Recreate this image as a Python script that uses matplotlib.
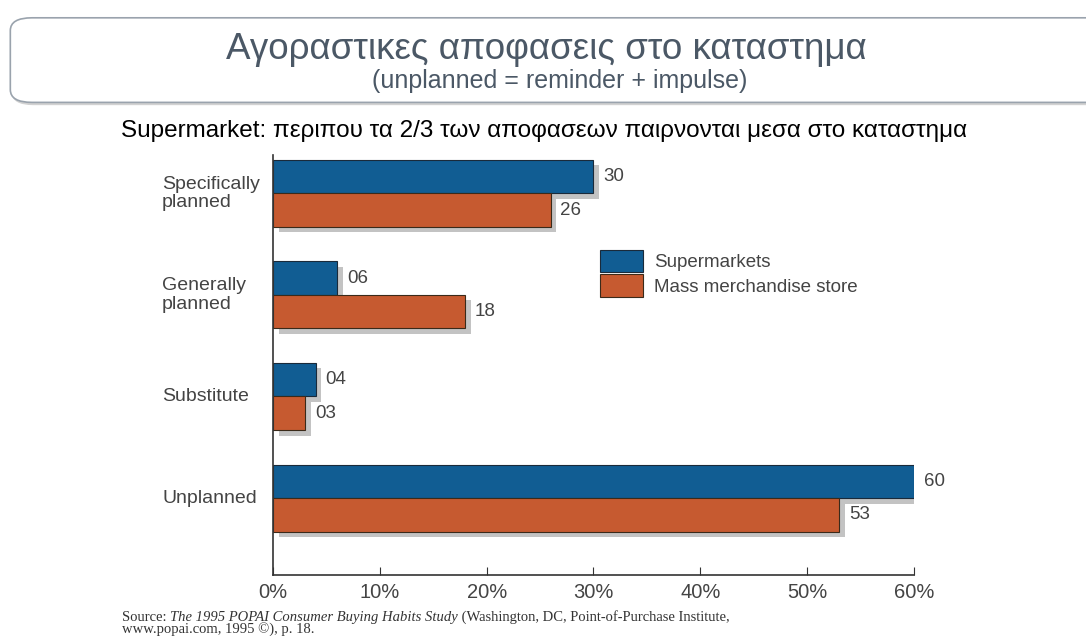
import matplotlib
matplotlib.use("Agg")
import matplotlib.pyplot as plt
import matplotlib.patheffects as pe
from matplotlib.patches import FancyBboxPatch, Patch
import numpy as np

categories = ["Specifically\nplanned", "Generally\nplanned", "Substitute", "Unplanned"]
supermarkets = [30, 6, 4, 60]
mass_merch = [26, 18, 3, 53]
series_names = ["Supermarkets", "Mass merchandise store"]
xticks = [0, 10, 20, 30, 40, 50, 60]

blue = "#115d93"
orange = "#c65a30"
gray = "#444444"

plt.rcParams["font.family"] = ["Liberation Sans", "DejaVu Sans"]

fig = plt.figure(figsize=(10.86, 6.36), dpi=100)

# header box
box = FancyBboxPatch((0.0095, 0.839), 1.05, 0.133, boxstyle="round,pad=0,rounding_size=0.02",
                     transform=fig.transFigure, facecolor="white", edgecolor="#9aa3ad", lw=1.2,
                     path_effects=[pe.SimplePatchShadow(offset=(1, -2), alpha=0.25), pe.Normal()])
fig.patches.append(box)
fig.text(0.503, 0.922, "Αγοραστικες αποφασεις στο καταστημα", ha="center", va="center",
         fontsize=26.5, color="#4b5866")
fig.text(0.515, 0.872, "(unplanned = reminder + impulse)", ha="center", va="center",
         fontsize=18, color="#4b5866")
fig.text(0.501, 0.794, "Supermarket: περιπου τα 2/3 των αποφασεων παιρνονται μεσα στο καταστημα",
         ha="center", va="center", fontsize=17.5, color="black")

ax = fig.add_axes([0.2514, 0.0959, 0.5902, 0.66])
y = np.arange(len(categories))
h = 0.33
shadow = [pe.SimplePatchShadow(offset=(4, -4), alpha=0.35, shadow_rgbFace="#555555"), pe.Normal()]
b1 = ax.barh(y - h / 2, supermarkets, height=h, color=blue, edgecolor="#1a2a3a", lw=0.8,
             path_effects=shadow)
b2 = ax.barh(y + h / 2, mass_merch, height=h, color=orange, edgecolor="#3a2a1a", lw=0.8,
             path_effects=shadow)
for bars, vals in ((b1, supermarkets), (b2, mass_merch)):
    for rect, v in zip(bars, vals):
        ax.annotate("%02d" % v, (rect.get_width(), rect.get_y() + rect.get_height() / 2),
                    xytext=(7, 0), textcoords="offset points", va="center", ha="left",
                    fontsize=13.5, color=gray)

ax.set_xlim(0, 60)
ax.set_ylim(3.757, -0.374)
ax.set_xticks(xticks)
ax.set_xticklabels(["%d%%" % t for t in xticks], fontsize=14.5, color=gray)
ax.set_yticks([])
for s in ("top", "right"):
    ax.spines[s].set_visible(False)
for s in ("left", "bottom"):
    ax.spines[s].set_color("#333333")
    ax.spines[s].set_linewidth(1.2)
ax.tick_params(axis="x", direction="in", length=6, color="#333333", pad=6)

for yi, c in zip(y, categories):
    ax.text(-0.173, yi, c, transform=ax.get_yaxis_transform(), ha="left", va="center",
            fontsize=14, color=gray, linespacing=1.1)

handles = [Patch(facecolor=blue, edgecolor="#1a2a3a", lw=0.8),
           Patch(facecolor=orange, edgecolor="#3a2a1a", lw=0.8)]
fig.legend(handles, series_names, loc="upper left", bbox_to_anchor=(0.5525, 0.607),
           frameon=False, fontsize=13.5, handlelength=2.3, handleheight=1.45,
           labelspacing=0.12, handletextpad=0.6, labelcolor=gray,
           borderpad=0, borderaxespad=0)

# source line, mixed roman/italic
fig.canvas.draw()
r = fig.canvas.get_renderer()
x0 = 0.1125
parts = [("Source: ", "normal"), ("The 1995 POPAI Consumer Buying Habits Study", "italic"),
         (" (Washington, DC, Point-of-Purchase Institute,", "normal")]
x = x0
for txt, st in parts:
    t = fig.text(x, 0.0236, txt, fontsize=10.5, family="Liberation Serif", style=st,
                 color="#333333", va="baseline")
    bb = t.get_window_extent(r)
    x += bb.width / fig.bbox.width
fig.text(x0, 0.0047, "www.popai.com, 1995 ©), p. 18.", fontsize=10.5, family="Liberation Serif",
         color="#333333", va="baseline")

fig.savefig("out.png", dpi=100)
